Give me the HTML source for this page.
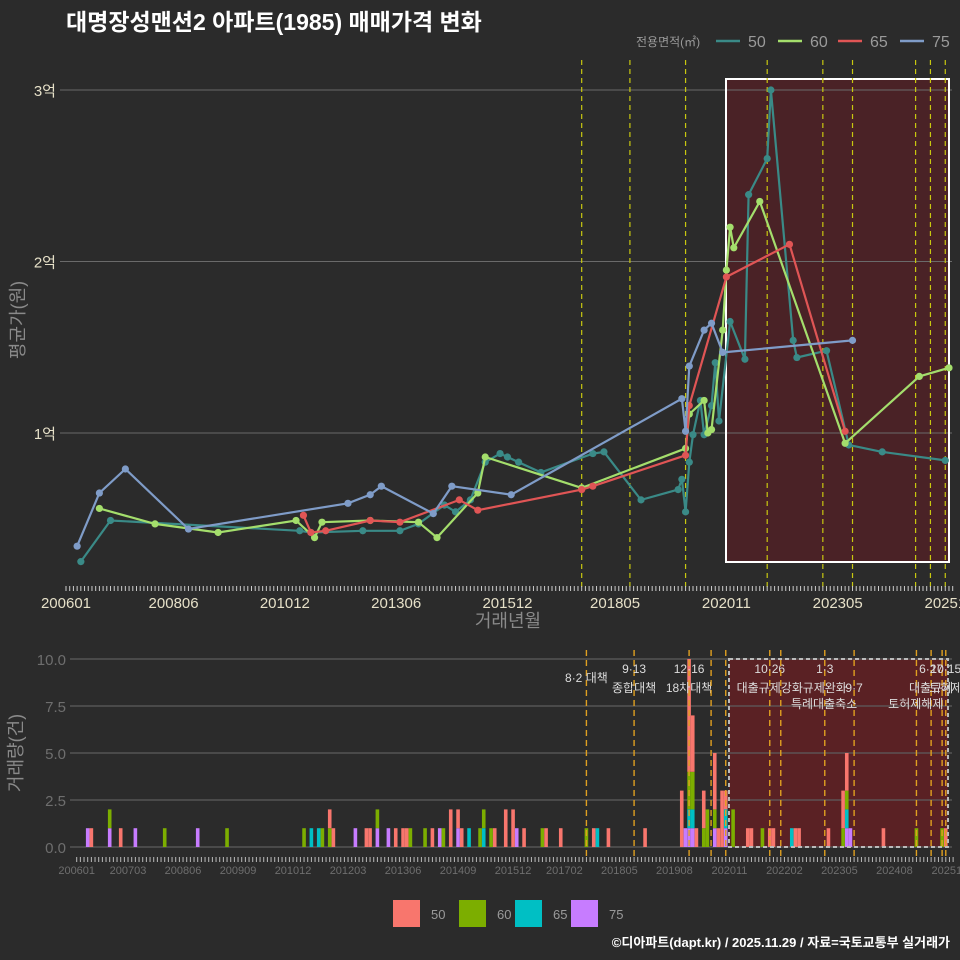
<!DOCTYPE html>
<html><head><meta charset="utf-8">
<style>
html,body{margin:0;padding:0;background:#2b2b2b;}
svg{display:block;font-family:"Liberation Sans","Noto Sans CJK KR",sans-serif;}
</style></head>
<body>
<svg id="c" width="960" height="960" viewBox="0 0 960 960">
<rect width="960" height="960" fill="#2b2b2b"/>
<text x="66" y="30" fill="#ffffff" font-size="23" font-weight="bold">대명장성맨션2 아파트(1985) 매매가격 변화</text>
<g id="topPanel"></g>
<g id="botPanel"></g>
<g id="legPanel"></g>
<text x="950" y="947" text-anchor="end" fill="#ffffff" font-size="13" font-weight="bold">©디아파트(dapt.kr) / 2025.11.29 / 자료=국토교통부 실거래가</text>
</svg>
<script>
// ---- price data (억) ----
const d50 = ["200605","200701","201104","201107","201209","201307","201312","201407","201410","201502","201506","201510","201512","201603","201609","201711","201802","201812","201910","201911","201912","202001","202002","202004","202005","202007","202008","202009","202012","202104","202105","202110","202111","202205","202206","202302","202308","202405","202510"];
const v50 = [0.25,0.49,0.43,0.42,0.43,0.43,0.47,0.58,0.54,0.61,0.83,0.88,0.86,0.83,0.77,0.88,0.89,0.61,0.67,0.73,0.54,0.83,0.99,1.19,0.99,1.16,1.41,1.07,1.65,1.43,2.39,2.60,3.0,1.54,1.44,1.48,0.93,0.89,0.84];
const d60 = ["200610","200801","200906","201103","201108","201110","201211","201312","201405","201504","201506","201708","201912","202001","202005","202006","202007","202010","202011","202012","202101","202108","202307","202503","202511"];
const v60 = [0.56,0.47,0.42,0.49,0.39,0.48,0.49,0.48,0.39,0.65,0.86,0.68,0.91,1.11,1.19,1.0,1.02,1.6,1.95,2.2,2.08,2.35,0.94,1.33,1.38];
const d65 = ["201105","201107","201111","201211","201307","201411","201504","201708","201711","201912","202001","202011","202204","202307"];
const v65 = [0.52,0.42,0.43,0.49,0.48,0.61,0.55,0.67,0.69,0.87,1.16,1.91,2.10,1.01];
const d75 = ["200604","200610","200705","200810","201205","201211","201302","201404","201409","201601","201911","201912","202001","202005","202007","202010","202309"];
const v75 = [0.34,0.65,0.79,0.44,0.59,0.64,0.69,0.53,0.69,0.64,1.2,1.01,1.39,1.6,1.64,1.47,1.54];
const yTicks = [1,2,3];
const yTickLabels = ["1억","2억","3억"];
const xTickLabels = ["200601","200806","201012","201306","201512","201805","202011","202305","202511"];
const policyTop = ["201708","201809","201912","202110","202301","202309","202502","202506","202510"];
// ---- volume data ----
const volMonths = [3,4,9,12,16,24,33,41,62,64,66,67,69,70,76,79,80,82,85,87,89,90,91,95,97,99,100,102,104,105,107,110,111,113,114,117,119,120,122,127,128,132,139,141,142,145,155,165,166,167,168,169,171,172,174,175,176,177,179,183,184,187,189,190,195,196,197,205,209,210,211,220,229,236,237];
const vol50 = [0,1,0,1,0,0,0,0,0,0,0,0,1,1,0,1,1,0,0,1,1,1,0,0,1,0,0,2,1,1,0,0,0,0,1,2,2,0,1,0,1,1,0,1,0,1,1,3,0,6,3,1,2,0,3,1,3,1,0,1,1,0,1,1,0,1,1,1,2,2,0,1,0,0,1];
const vol60 = [0,0,1,0,0,1,0,1,1,0,0,1,1,0,0,0,0,1,0,0,0,0,1,1,0,0,1,0,0,0,0,1,1,1,0,0,0,0,0,1,0,0,1,0,0,0,0,0,0,2,2,0,1,2,1,0,0,0,2,0,0,1,0,0,0,0,0,0,1,1,0,0,1,1,0];
const vol65 = [0,0,0,0,0,0,0,0,0,1,1,0,0,0,0,0,0,0,0,0,0,0,0,0,0,0,0,0,0,0,1,0,1,0,0,0,0,0,0,0,0,0,0,0,1,0,0,0,0,1,1,0,0,0,0,0,0,1,0,0,0,0,0,0,1,0,0,0,0,1,0,0,0,0,0];
const vol75 = [1,0,1,0,1,0,1,0,0,0,0,0,0,0,1,0,0,1,1,0,0,0,0,0,0,1,0,0,1,0,0,0,0,0,0,0,0,1,0,0,0,0,0,0,0,0,0,0,1,1,1,0,0,0,1,0,0,1,0,0,0,0,0,0,0,0,0,0,0,1,1,0,0,0,0];
const volTicks = [0,2.5,5,7.5,10];
const volTickLabels = ["0.0","2.5","5.0","7.5","10.0"];
const volXLabels = ["200601","200703","200806","200909","201012","201203","201306","201409","201512","201702","201805","201908","202011","202202","202305","202408","202511"];
const policyBot = ["201708","201809","201912","202006","202010","202110","202201","202301","202309","202502","202506","202509","202510"];
const policyName1 = ["8·2 대책","9·13","12·16","","","10·26","","1·3","","","6·27","","10·15"];
const policyName2 = ["","종합대책","18차대책","","","대출규제강화","","규제완화","9·7","","대출규제","","토허제"];
const policyName3 = ["","","","","","","","","특례대출축소","","","","토허제해제"];

const NS="http://www.w3.org/2000/svg";
function mk(tag,attrs,parent,name,txt){
  const e=document.createElementNS(NS,tag);
  for(const k in attrs) e.setAttribute(k,attrs[k]);
  if(txt!==undefined) e.textContent=txt;
  parent.appendChild(e);
  
  
  return e;
}
function mIdx(s){return (parseInt(s.slice(0,4))-2006)*12+parseInt(s.slice(4,6))-1;}
const xT=m=>66+m*3.71;
const yT=v=>433-(v-1)*171.5;
const xB=m=>76.7+m*3.667;
const yB=c=>847-c*18.8;

const topG=document.getElementById('topPanel');
mk('rect',{x:726,y:79,width:223,height:483,fill:'#4a2226',stroke:'none'},topG,'highlight-region');
yTicks.forEach((t,i)=>{
  mk('line',{x1:60,x2:952,y1:yT(t),y2:yT(t),stroke:'#6a6a6a','stroke-width':1},topG,'y-gridline');
  mk('text',{x:56,y:yT(t)+6,'text-anchor':'end',fill:'#e6e0c8','font-size':15},topG,'y-tick-label',yTickLabels[i]);
});
mk('rect',{x:726,y:79,width:223,height:483,fill:'none',stroke:'#ffffff','stroke-width':2},topG,'highlight-border');
policyTop.forEach(p=>{
  const x=xT(mIdx(p));
  mk('line',{x1:x,x2:x,y1:60,y2:588,stroke:'#c8c810','stroke-width':1.2,'stroke-dasharray':'5,4'},topG,'policy-line');
});
for(let m=0;m<=239;m++){
  mk('line',{x1:xT(m),x2:xT(m),y1:586,y2:591,stroke:'#cccccc','stroke-width':1},topG,'x-minor-tick');
}
xTickLabels.forEach(l=>{
  mk('text',{x:xT(mIdx(l)),y:608,'text-anchor':'middle',fill:'#e6e0c8','font-size':15},topG,'x-tick-label',l);
});
mk('text',{x:508,y:627,'text-anchor':'middle',fill:'#8a8a8a','font-size':18},topG,'x-axis-title','거래년월');
mk('text',{x:0,y:0,transform:'translate(24,320) rotate(-90)','text-anchor':'middle',fill:'#8a8a8a','font-size':18},topG,'y-axis-title','평균가(원)');
const series=[[d50,v50,'#3a8a87','50'],[d60,v60,'#a4de6c','60'],[d65,v65,'#e05555','65'],[d75,v75,'#7f9cc8','75']];
series.forEach(([d,v,c,n])=>{
  const pts=d.map((s,i)=>xT(mIdx(s)).toFixed(1)+','+yT(v[i]).toFixed(1)).join(' ');
  mk('polyline',{points:pts,fill:'none',stroke:c,'stroke-width':2.2},topG,'line-'+n);
  d.forEach((s,i)=>mk('circle',{cx:xT(mIdx(s)),cy:yT(v[i]),r:3.6,fill:c},topG,'point-'+n));
});
const legG=document.getElementById('legPanel');
mk('text',{x:636,y:46,fill:'#9a9a9a','font-size':12},legG,'legend-title','전용면적(㎡)');
const lx=[716,778,838,900];
series.forEach(([d,v,c,n],i)=>{
  mk('line',{x1:lx[i],x2:lx[i]+24,y1:41,y2:41,stroke:c,'stroke-width':2.5},legG,'legend-line-'+n);
  mk('text',{x:lx[i]+32,y:47,fill:'#9a9a9a','font-size':16},legG,'legend-label-'+n,n);
});
const bc=['#f8766d','#7cae00','#00bfc4','#c77cff'],bn=['50','60','65','75'],bx=[393,459,515,571];
bn.forEach((n,i)=>{
  mk('rect',{x:bx[i],y:900,width:27,height:27,fill:bc[i]},legG,'legend-swatch-'+n);
  mk('text',{x:bx[i]+38,y:919,fill:'#9a9a9a','font-size':13},legG,'legend-swatch-label-'+n,n);
});

const botG=document.getElementById('botPanel');
mk('rect',{x:729,y:659,width:219,height:188,fill:'#5a2124'},botG,'highlight-region-volume');
volTicks.forEach((t,i)=>{
  mk('line',{x1:70,x2:952,y1:yB(t),y2:yB(t),stroke:'#5e5e5e','stroke-width':1.2},botG,'volume-gridline');
  mk('text',{x:66,y:yB(t)+6,'text-anchor':'end',fill:'#6e6e6e','font-size':15},botG,'volume-tick-label',volTickLabels[i]);
});
mk('text',{x:0,y:0,transform:'translate(22,753) rotate(-90)','text-anchor':'middle',fill:'#8a8a8a','font-size':18},botG,'volume-axis-title','거래량(건)');
const vs=[vol75,vol65,vol60,vol50],vc=['#c77cff','#00bfc4','#7cae00','#f8766d'],vn=['75','65','60','50'];
volMonths.forEach((m,i)=>{
  let acc=0;
  vs.forEach((arr,k)=>{
    const c=arr[i]; if(!c) return;
    mk('rect',{x:xB(m)-1.8,y:yB(acc+c),width:3.6,height:yB(acc)-yB(acc+c),fill:vc[k]},botG,'volume-bar-'+vn[k]);
    acc+=c;
  });
});
mk('rect',{x:729,y:659,width:219,height:188,fill:'none',stroke:'#bbbbbb','stroke-width':2,'stroke-dasharray':'4,3'},botG,'highlight-border-volume');
policyBot.forEach((p,i)=>{
  const x=xB(mIdx(p));
  mk('line',{x1:x,x2:x,y1:650,y2:856,stroke:'#e0a020','stroke-width':1.4,'stroke-dasharray':'6,4'},botG,'policy-line-volume');
  if(policyName1[i]) mk('text',{x:x,y:i===0?682:673,'text-anchor':'middle',fill:'#dddddd','font-size':12},botG,'policy-date',policyName1[i]);
  if(policyName2[i]) mk('text',{x:x,y:692,'text-anchor':'middle',fill:'#dddddd','font-size':12},botG,'policy-name',policyName2[i]);
  if(policyName3[i]) mk('text',{x:x-30,y:708,'text-anchor':'middle',fill:'#dddddd','font-size':12},botG,'policy-name',policyName3[i]);
});
for(let m=0;m<=239;m++){
  mk('line',{x1:xB(m),x2:xB(m),y1:857,y2:862,stroke:'#bbbbbb','stroke-width':1},botG,'volume-minor-tick');
}
volXLabels.forEach(l=>{
  mk('text',{x:xB(mIdx(l)),y:874,'text-anchor':'middle',fill:'#6e6e6e','font-size':11},botG,'volume-x-label',l);
});
</script>
</body></html>
